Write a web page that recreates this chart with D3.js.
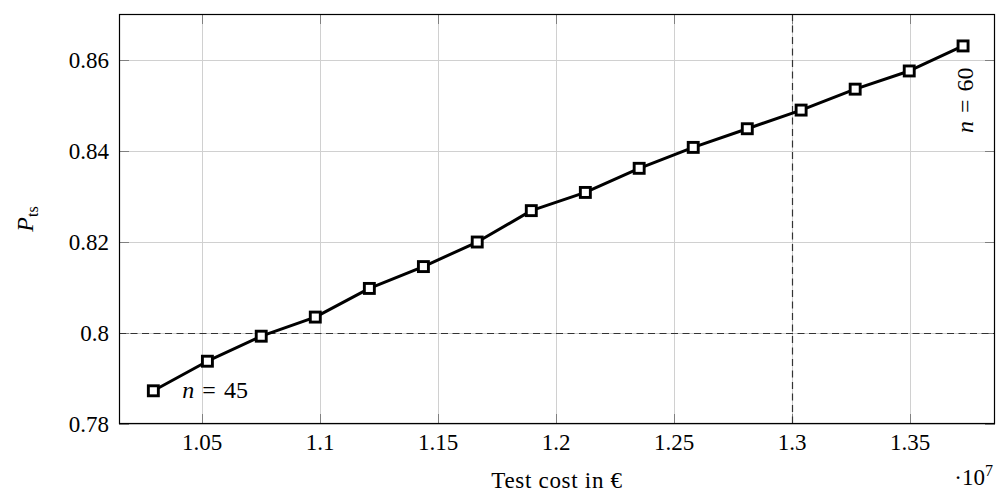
<!DOCTYPE html>
<html>
<head>
<meta charset="utf-8">
<script src="https://cdn.jsdelivr.net/npm/d3@7/dist/d3.min.js"></script>
<style>
  html, body { margin: 0; padding: 0; background: #fff; }
  svg text { font-family: "Liberation Serif", "DejaVu Serif", serif; fill: #000; }
</style>
</head>
<body>
<svg id="chart" width="1003" height="493"></svg>
<script>
// Test cost (in units of 10^7 €) for sample sizes n = 45 … 60
const sampleSizes = [45, 46, 47, 48, 49, 50, 51, 52, 53, 54, 55, 56, 57, 58, 59, 60];
const testCost = [1.0296, 1.0525, 1.0753, 1.0982, 1.1211, 1.1440, 1.1668, 1.1897,
                  1.2126, 1.2354, 1.2583, 1.2812, 1.3040, 1.3269, 1.3498, 1.3726];
const pTs = [0.7873, 0.7938, 0.7993, 0.8035, 0.8098, 0.8146, 0.8200, 0.8269,
             0.8309, 0.8362, 0.8408, 0.8449, 0.8490, 0.8536, 0.8576, 0.8631];

const xTicks = [1.05, 1.1, 1.15, 1.2, 1.25, 1.3, 1.35];
const xTickLabels = ["1.05", "1.1", "1.15", "1.2", "1.25", "1.3", "1.35"];
const yTicks = [0.78, 0.8, 0.82, 0.84, 0.86];
const yTickLabels = ["0.78", "0.8", "0.82", "0.84", "0.86"];

// reference lines: required probability and budget limit
const pThreshold = 0.8;
const costLimit = 1.3;

const margin = { left: 119, right: 8, top: 14, bottom: 69 };
const W = 1003, H = 493;
const svg = d3.select("#chart");

const x = d3.scaleLinear().domain([1.01505, 1.38613]).range([margin.left, W - margin.right]);
const y = d3.scaleLinear().domain([0.78, 0.87012]).range([H - margin.bottom, margin.top]);

const x0 = x.range()[0], x1 = x.range()[1];
const y0 = y.range()[0], y1 = y.range()[1];

// grid
const grid = svg.append("g").attr("stroke", "#d0d0d0").attr("stroke-width", 1);
grid.selectAll("line.vx").data(xTicks).join("line")
  .attr("x1", d => Math.round(x(d)) + 0.5).attr("x2", d => Math.round(x(d)) + 0.5)
  .attr("y1", y1).attr("y2", y0);
grid.selectAll("line.hy").data(yTicks).join("line")
  .attr("x1", x0).attr("x2", x1)
  .attr("y1", d => Math.round(y(d)) + 0.5).attr("y2", d => Math.round(y(d)) + 0.5);

// inward tick marks on all four sides
const tk = svg.append("g").attr("stroke", "#808080").attr("stroke-width", 1);
const tlen = 10;
xTicks.forEach(d => {
  const px = Math.round(x(d)) + 0.5;
  tk.append("line").attr("x1", px).attr("x2", px).attr("y1", y0).attr("y2", y0 - tlen);
  tk.append("line").attr("x1", px).attr("x2", px).attr("y1", y1).attr("y2", y1 + tlen);
});
yTicks.forEach(d => {
  const py = Math.round(y(d)) + 0.5;
  tk.append("line").attr("x1", x0).attr("x2", x0 + tlen).attr("y1", py).attr("y2", py);
  tk.append("line").attr("x1", x1).attr("x2", x1 - tlen).attr("y1", py).attr("y2", py);
});

// dashed reference lines
const ref = svg.append("g").attr("stroke", "#333").attr("stroke-width", 1.2).attr("stroke-dasharray", "7,4.5");
ref.append("line").attr("x1", x0).attr("x2", x1)
  .attr("y1", Math.round(y(pThreshold)) + 0.5).attr("y2", Math.round(y(pThreshold)) + 0.5);
ref.append("line").attr("x1", Math.round(x(costLimit)) + 0.5).attr("x2", Math.round(x(costLimit)) + 0.5)
  .attr("y1", y1).attr("y2", y0);

// frame
svg.append("rect").attr("x", x0 + 0.5).attr("y", y1 + 0.5)
  .attr("width", x1 - x0 - 1).attr("height", y0 - y1 - 1)
  .attr("fill", "none").attr("stroke", "#000").attr("stroke-width", 1.2);

// axes (labels only)
const xAxis = d3.axisBottom(x).tickValues(xTicks).tickFormat((d, i) => xTickLabels[i])
  .tickSize(0).tickPadding(10);
const gx = svg.append("g").attr("transform", `translate(0,${y0})`).call(xAxis);
gx.select(".domain").remove();
gx.selectAll("text").style("font-size", "23px").style("font-family", "Liberation Serif, serif").attr("fill", "#000");

const yAxis = d3.axisLeft(y).tickValues(yTicks).tickFormat((d, i) => yTickLabels[i])
  .tickSize(0).tickPadding(10);
const gy = svg.append("g").attr("transform", `translate(${x0},0)`).call(yAxis);
gy.select(".domain").remove();
gy.selectAll("text").style("font-size", "23px").style("font-family", "Liberation Serif, serif").attr("fill", "#000");

// data line
const line = d3.line().x((d, i) => x(testCost[i])).y(d => y(d));
svg.append("path").datum(pTs).attr("d", line)
  .attr("fill", "none").attr("stroke", "#000").attr("stroke-width", 3).attr("stroke-linejoin", "round");

// square markers
const ms = 10;
svg.append("g").selectAll("rect").data(pTs).join("rect")
  .attr("x", (d, i) => x(testCost[i]) - ms / 2)
  .attr("y", d => y(d) - ms / 2)
  .attr("width", ms).attr("height", ms)
  .attr("fill", "#fff").attr("stroke", "#000").attr("stroke-width", 2.9);

// annotations for first and last sample size
const first = 0, last = pTs.length - 1;
const a1 = svg.append("text")
  .attr("x", x(testCost[first]) + 29).attr("y", y(pTs[first]) + 7)
  .style("font-size", "24px");
a1.append("tspan").style("font-style", "italic").text("n");
a1.append("tspan").attr("dx", 8).text("=");
a1.append("tspan").attr("dx", 8).text(String(sampleSizes[first]));

const a2 = svg.append("text")
  .attr("transform", `translate(${x(testCost[last]) + 10},${y(pTs[last]) + 87}) rotate(-90)`)
  .style("font-size", "24px");
a2.append("tspan").style("font-style", "italic").text("n");
a2.append("tspan").attr("dx", 8).text("=");
a2.append("tspan").attr("dx", 8).text(String(sampleSizes[last]));

// axis titles
svg.append("text").attr("x", (x0 + x1) / 2).attr("y", 488)
  .attr("text-anchor", "middle").style("font-size", "23px").style("letter-spacing", "0.7px")
  .text("Test cost in €");

const sc = svg.append("text").attr("x", x1 - 2).attr("y", 485)
  .attr("text-anchor", "end").style("font-size", "23px");
sc.append("tspan").text("·10");
sc.append("tspan").attr("dy", -9).style("font-size", "16px").text("7");

const yl = svg.append("text")
  .attr("transform", `translate(33,${(y0 + y1) / 2}) rotate(-90)`)
  .attr("text-anchor", "middle").style("font-size", "24px");
yl.append("tspan").style("font-style", "italic").text("P");
yl.append("tspan").attr("dy", 5).style("font-size", "16px").text("ts");
</script>
</body>
</html>
